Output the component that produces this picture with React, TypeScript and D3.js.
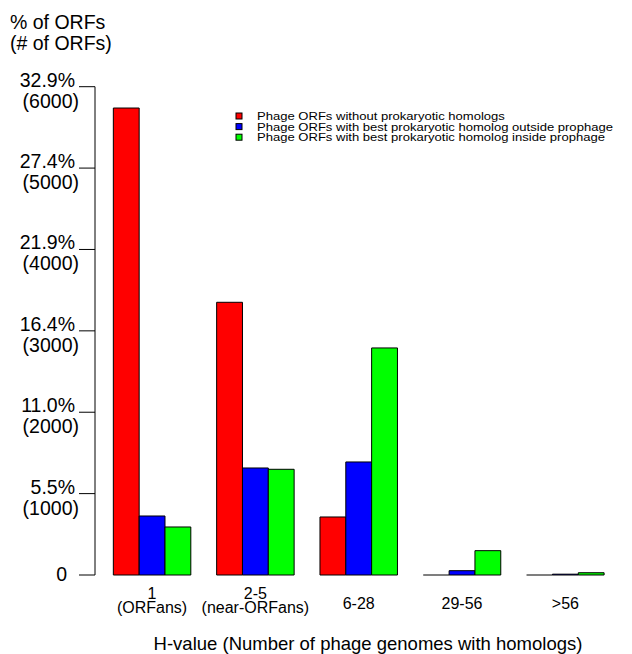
import React from "react";
import * as d3 from "d3";

const categories = ["1", "2-5", "6-28", "29-56", ">56"];
const categorySub = ["(ORFans)", "(near-ORFans)", "", "", ""];
const seriesNames = [
  "Phage ORFs without prokaryotic homologs",
  "Phage ORFs with best prokaryotic homolog outside prophage",
  "Phage ORFs with best prokaryotic homolog inside prophage",
];
const seriesColors = ["#FF0000", "#0000FF", "#00FF00"];
const noHomolog = [5738, 3351, 713, 0, 0];
const outsideProphage = [725, 1315, 1389, 53, 10];
const insideProphage = [590, 1299, 2790, 299, 28];
const yTicks = [0, 1000, 2000, 3000, 4000, 5000, 6000];
const yTickPct = ["0", "5.5%", "11.0%", "16.4%", "21.9%", "27.4%", "32.9%"];

const FONT = "'Liberation Sans', Arial, Helvetica, sans-serif";

export default function App() {
  const W = 632;
  const H = 654;
  const series = [noHomolog, outsideProphage, insideProphage];
  const unit = 25.83;
  const x0 = 87.5;
  const y = d3.scaleLinear().domain([0, 6000]).range([575, 86.7]);
  const xg = d3
    .scaleBand<string>()
    .domain(categories)
    .range([x0 + unit, x0 + 20 * unit])
    .paddingInner(0.25)
    .paddingOuter(0);
  const xs = d3
    .scaleBand<number>()
    .domain([0, 1, 2])
    .range([0, xg.bandwidth()])
    .padding(0);

  const axisX = 95;
  const LF = 19.5;
  return (
    <svg
      width={W}
      height={H}
      style={{ position: "absolute", left: 0, top: 0, background: "#fff" }}
      fontFamily={FONT}
    >
      <rect x={0} y={0} width={W} height={H} fill="#fff" />
      {/* y title */}
      <text x={10} y={29} fontSize={LF}>% of ORFs</text>
      <text x={10} y={50} fontSize={LF}>(# of ORFs)</text>

      {/* y axis */}
      <line x1={axisX} x2={axisX} y1={y(6000)} y2={y(0)} stroke="#000" strokeWidth={1} />
      {yTicks.map((t, i) => (
        <g key={t}>
          <line x1={79} x2={axisX} y1={y(t)} y2={y(t)} stroke="#000" strokeWidth={1} />
          {t === 0 ? (
            <text x={67} y={y(t) + 6} fontSize={LF} textAnchor="end">
              {yTickPct[i]}
            </text>
          ) : (
            <>
              <text x={75} y={y(t)} fontSize={LF} textAnchor="end">
                {yTickPct[i]}
              </text>
              <text x={79} y={y(t) + 21} fontSize={LF} textAnchor="end">
                ({t})
              </text>
            </>
          )}
        </g>
      ))}

      {/* bars */}
      {categories.map((c, ci) => (
        <g key={c}>
          {series.map((s, si) => {
            const v = s[ci];
            const bx = (xg(c) as number) + (xs(si) as number);
            const bw = xs.bandwidth();
            const p = d3.path();
            p.rect(bx, y(v), bw, y(0) - y(v));
            return (
              <path
                key={si}
                d={p.toString()}
                fill={seriesColors[si]}
                stroke={v === 0 ? "#555" : "#000"}
                strokeWidth={1}
              />
            );
          })}
        </g>
      ))}

      {/* category labels */}
      {categories.map((c, ci) => {
        const cx = (xg(c) as number) + xg.bandwidth() / 2;
        return categorySub[ci] ? (
          <g key={c}>
            <text x={cx} y={598.5} fontSize={16} textAnchor="middle">{c}</text>
            <text x={cx} y={613} fontSize={16} textAnchor="middle">{categorySub[ci]}</text>
          </g>
        ) : (
          <text key={c} x={cx} y={609} fontSize={16} textAnchor="middle">{c}</text>
        );
      })}

      {/* x title */}
      <text x={368} y={650} fontSize={18.5} textAnchor="middle">
        H-value (Number of phage genomes with homologs)
      </text>

      {/* legend */}
      {seriesNames.map((n, i) => {
        const cy = 116 + i * 10.6;
        return (
          <g key={n}>
            <rect x={236} y={cy - 3} width={6} height={6} fill={seriesColors[i]} stroke="#000" strokeWidth={1} />
            <text transform={`translate(257,${cy + 4}) scale(1.22,1)`} fontSize={10.7}>{n}</text>
          </g>
        );
      })}
    </svg>
  );
}
